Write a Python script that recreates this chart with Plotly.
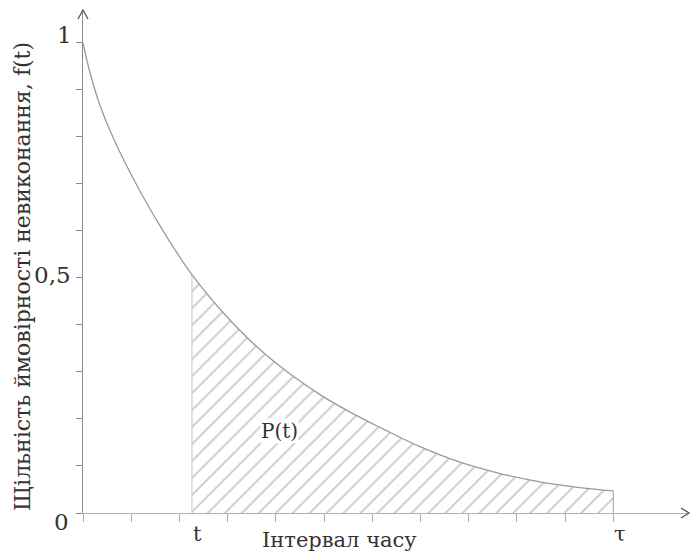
import plotly.graph_objects as go

# ---- data ----
curve_x = [0.0, 0.15, 0.35, 0.63, 1.18, 1.74, 2.26, 2.91, 3.60, 4.29, 4.99, 5.68, 6.20, 6.99, 7.82, 8.65, 9.48, 10.3, 11.0]
curve_f = [1.0, 0.935, 0.868, 0.797, 0.685, 0.587, 0.507, 0.426, 0.354, 0.296, 0.247, 0.207, 0.180, 0.141, 0.108, 0.084, 0.066, 0.054, 0.047]
t_val = 2.26
tau_val = 11.0
x_tick_vals = list(range(0, 12))
y_tick_vals = [0, 0.1, 0.2, 0.3, 0.4, 0.5, 0.6, 0.7, 0.8, 0.9, 1.0]
y_label_vals = [0, 0.5, 1.0]
y_label_text = ["0", "0,5", "1"]
x_label_vals = [t_val, tau_val]
x_label_text = ["t", "τ"]
area_label = "P(t)"
x_title = "Інтервал часу"
y_title = "Щільність ймовірності невиконання, f(t)"

FONT = "DejaVu Serif"
TXT = "#333333"
GRAY = "#9a9a9a"

fill_x = [x for x in curve_x if x >= t_val]
fill_y = [f for x, f in zip(curve_x, curve_f) if x >= t_val]
f_t = fill_y[0]
f_tau = fill_y[-1]

fig = go.Figure()
fig.add_trace(go.Scatter(
    x=fill_x, y=fill_y, mode="lines", line=dict(width=0, shape="spline"),
    fill="tozeroy", fillcolor="rgba(0,0,0,0)",
    fillpattern=dict(shape="/", fgcolor="#8e8e8e", bgcolor="white", size=12, solidity=0.14),
    hoverinfo="skip", showlegend=False))
fig.add_trace(go.Scatter(x=[t_val, t_val], y=[0, f_t], mode="lines",
                         line=dict(color="#e2c6b9", width=1.2), showlegend=False))
fig.add_trace(go.Scatter(x=[tau_val, tau_val], y=[0, f_tau], mode="lines",
                         line=dict(color="#a0a0a0", width=1), showlegend=False))
fig.add_trace(go.Scatter(x=curve_x, y=curve_f, mode="lines",
                         line=dict(color=GRAY, width=1.3, shape="spline", smoothing=1.1),
                         showlegend=False))

x_max = 12.57
y_max = 1.07

fig.update_xaxes(range=[0, x_max], showline=True, linecolor="#c4aea4", linewidth=1.2,
                 ticks="outside", ticklen=8, tickcolor="#b9a79f", tickwidth=1,
                 tickvals=x_tick_vals, showticklabels=False,
                 showgrid=False, zeroline=False)
fig.update_yaxes(range=[0, y_max], showline=True, linecolor="#8c8c8c", linewidth=1.2,
                 ticks="outside", ticklen=6, tickcolor="#8c8c8c", tickwidth=1,
                 tickvals=y_tick_vals, showticklabels=False,
                 showgrid=False, zeroline=False)

anns = []
shifts_y = {0: (-12, -9), 0.5: (-10, 3), 1.0: (-9, 8)}
for v, s in zip(y_label_vals, y_label_text):
    xs, ys = shifts_y[v]
    anns.append(dict(x=0, y=v, xref="x", yref="y", text=s, showarrow=False,
                     xanchor="right", yanchor="middle", xshift=xs, yshift=ys,
                     font=dict(family=FONT, size=23, color=TXT)))
for v, s, xs in zip(x_label_vals, x_label_text, [6, 7]):
    anns.append(dict(x=v, y=0, xref="x", yref="y", text=s, showarrow=False,
                     xanchor="center", yanchor="middle", xshift=xs, yshift=-21,
                     font=dict(family=FONT, size=21, color=TXT)))
anns.append(dict(x=4.07, y=0.174, xref="x", yref="y", text=area_label, showarrow=False,
                 bgcolor="white", borderpad=0,
                 font=dict(family=FONT, size=20, color=TXT)))
anns.append(dict(x=5.31, y=0, xref="x", yref="y", text=x_title, showarrow=False,
                 yanchor="middle", yshift=-27,
                 font=dict(family=FONT, size=21, color=TXT)))
anns.append(dict(x=0, y=0.502, xref="x", yref="y", text=y_title, showarrow=False,
                 textangle=-90, xanchor="center", xshift=-61,
                 font=dict(family=FONT, size=22, color=TXT)))
fig.update_layout(annotations=anns)

# axis arrowheads (paper refs so they are not clipped)
fig.add_shape(type="path", xref="paper", yref="paper", xsizemode="pixel", ysizemode="pixel",
              xanchor=1, yanchor=0, path="M -8,5 L 0,0 L -8,-5",
              line=dict(color="#555555", width=1.3))
fig.add_shape(type="path", xref="paper", yref="paper", xsizemode="pixel", ysizemode="pixel",
              xanchor=0, yanchor=1, path="M -5,-9 L 0,0 L 5,-9",
              line=dict(color="#555555", width=1.3))

fig.update_layout(width=691, height=553, margin=dict(l=83, r=2, t=10, b=40),
                  paper_bgcolor="white", plot_bgcolor="white")
fig.write_html("out.html")
